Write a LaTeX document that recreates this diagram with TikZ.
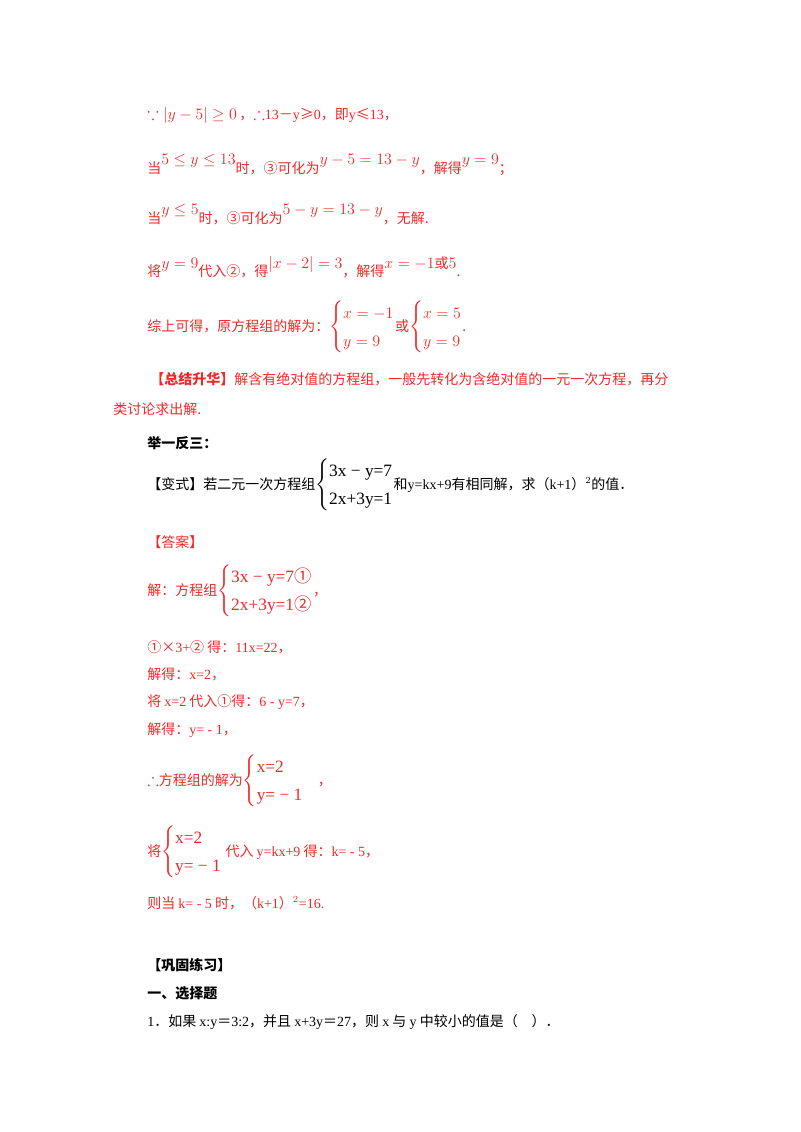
\documentclass[tikz,border=0pt]{standalone}
\usepackage{amsmath,amssymb}
\usepackage{fontspec}
\setmainfont{Noto Sans CJK SC}
\newfontfamily\lat{Liberation Serif}
\definecolor{rd}{RGB}{240,40,40}
\newcommand{\mm}[1]{{\fontsize{13}{14}\selectfont$#1$}}
\newcommand{\stk}[2]{\renewcommand{\arraystretch}{1.5}\left\{\begin{array}{@{}l@{}}#1\\ #2\end{array}\right.}
\begin{document}
\begin{tikzpicture}[x=0.75pt,y=-0.75pt]
\useasboundingbox (0,0) rectangle (800,1132);
\tikzset{ln/.style={anchor=west,inner sep=0,font=\fontsize{10.5}{12}\selectfont},
 r/.style={ln,text=rd}, k/.style={ln,text=black}}
\node[r] (l1) at (147,115) {\mm{\because\left|y-5\right|\ge 0}\,，\mm{\therefore}{\lat 13}－{\lat y}≥{\lat 0}，即{\lat y}≤{\lat 13}，};
\node[r] (l2) at (147,165) {当\raisebox{1.2ex}{\mm{5\le y\le 13}}时，③可化为\raisebox{1.2ex}{\mm{y-5=13-y}}，解得\raisebox{1.2ex}{\mm{y=9}}；};
\node[r] (l3) at (147,215) {当\raisebox{1.2ex}{\mm{y\le 5}}时，③可化为\raisebox{1.2ex}{\mm{5-y=13-y}}，无解.};
\node[r] (l4) at (147,267) {将\raisebox{1ex}{\mm{y=9}}代入②，得\raisebox{1ex}{\mm{\left|x-2\right|=3}}，解得\raisebox{1ex}{\mm{x=-1}或\mm{5}}.};
\node[r] (l5) at (147,327) {综上可得，原方程组的解为：\mm{\stk{x=-1}{y=9}}或\mm{\stk{x=5}{y=9}}.};
\node[r] (l6) at (150,379) {\textbf{【总结升华】}解含有绝对值的方程组，一般先转化为含绝对值的一元一次方程，再分};
\node[r] (l7) at (113,409) {类讨论求出解.};
\node[k] (l8) at (147,443) {\textbf{举一反三：}};
\node[k] (l9) at (147,485) {【变式】若二元一次方程组\mm{\stk{\text{\lat 3x − y=7}}{\text{\lat 2x+3y=1}}}和{\lat y=kx+9}有相同解，求（{\lat k+1}）$^{2}$的值．};
\node[r] (l10) at (147,542) {【答案】};
\node[r] (l11) at (147,591) {解：方程组\mm{\stk{\text{\lat 3x − y=7}\text{①}}{\text{\lat 2x+3y=1}\text{②}}}，};
\node[r] (l12) at (147,647) {①×{\lat 3+}② 得：{\lat 11x=22}，};
\node[r] (l13) at (147,674) {解得：{\lat x=2}，};
\node[r] (l14) at (147,702) {将 {\lat x=2} 代入①得：{\lat 6 - y=7}，};
\node[r] (l15) at (147,730) {解得：{\lat y= - 1}，};
\node[r] (l16) at (147,781) {\mm{\therefore}方程组的解为\mm{\stk{\text{\lat x=2}}{\text{\lat y= − 1}}}\quad ，};
\node[r] (l17) at (147,852) {将\mm{\stk{\text{\lat x=2}}{\text{\lat y= − 1}}}\ 代入 {\lat y=kx+9} 得：{\lat k= - 5}，};
\node[r] (l18) at (147,903) {则当 {\lat k= - 5} 时，（{\lat k+1}）$^{2}${\lat =16.}};
\node[k] (l19) at (147,965) {\textbf{【巩固练习】}};
\node[k] (l20) at (147,993) {\textbf{一、选择题}};
\node[k] (l21) at (147,1022) {{\lat 1}．如果 {\lat x:y}＝{\lat 3:2}，并且 {\lat x+3y}＝{\lat 27}，则 {\lat x} 与 {\lat y} 中较小的值是（\quad ）．};
\end{tikzpicture}
\end{document}
